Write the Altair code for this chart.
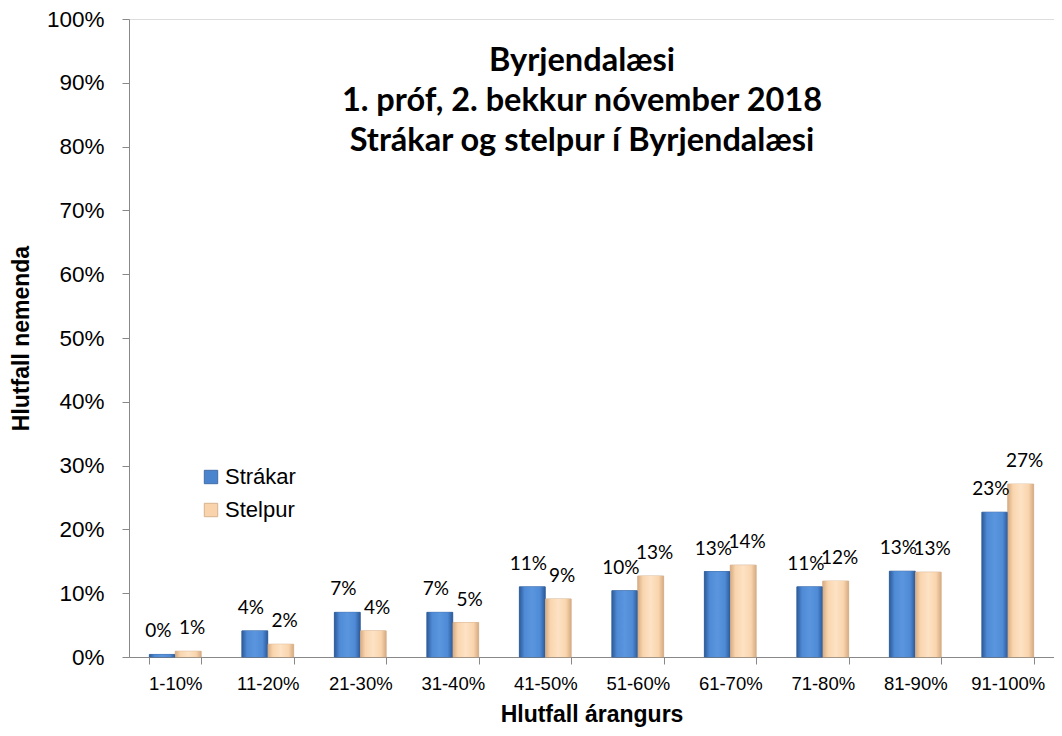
import altair as alt
import pandas as pd

categories = ["1-10%", "11-20%", "21-30%", "31-40%", "41-50%",
              "51-60%", "61-70%", "71-80%", "81-90%", "91-100%"]
series_names = ["Strákar", "Stelpur"]
strakar = [0.4, 4.1, 7.0, 7.0, 11.0, 10.4, 13.4, 11.0, 13.45, 22.7]
stelpur = [0.9, 2.0, 4.1, 5.4, 9.1, 12.7, 14.4, 11.9, 13.3, 27.1]
y_ticks = [i / 10 for i in range(11)]
title_lines = ["Byrjendalæsi", "1. próf, 2. bekkur nóvember 2018",
               "Strákar og stelpur í Byrjendalæsi"]

rows = []
for c, a, b in zip(categories, strakar, stelpur):
    rows.append({"cat": c, "series": series_names[0], "val": a / 100})
    rows.append({"cat": c, "series": series_names[1], "val": b / 100})
df = pd.DataFrame(rows)

FONT = "Lato"
blue = "#4a84cf"
peach = "#f8d3ac"

x_enc = alt.X("cat:N", sort=categories,
              scale=alt.Scale(paddingInner=0.44, paddingOuter=0.22),
              axis=alt.Axis(title="Hlutfall árangurs", labelAngle=0,
                            tickBand="extent", tickSize=7, labelPadding=10,
                            labelFontSize=18.5, titleFontSize=23,
                            titlePadding=11))
y_enc = alt.Y("val:Q", scale=alt.Scale(domain=[0, 1], nice=False),
              axis=alt.Axis(title="Hlutfall nemenda", format=".0%",
                            values=y_ticks, grid=False, tickSize=7,
                            labelPadding=18, labelFontSize=22.5,
                            titleFontSize=23, titleX=-108, titleY=319,
                            titleBaseline="middle", titleAngle=-90))
xo_enc = alt.XOffset("series:N", sort=series_names,
                     scale=alt.Scale(domain=series_names, paddingInner=0,
                                     paddingOuter=0))

base = alt.Chart(df)

bars = base.mark_bar(strokeWidth=0.8).encode(
    x=x_enc, y=y_enc, xOffset=xo_enc,
    color=alt.Color("series:N", sort=series_names,
                    scale=alt.Scale(domain=series_names, range=[blue, peach]),
                    legend=alt.Legend(title=None, orient="none",
                                      legendX=71, legendY=447,
                                      symbolType="square", symbolSize=180,
                                      symbolStrokeWidth=0.8,
                                      labelFontSize=22, rowPadding=11,
                                      labelOffset=3)),
    stroke=alt.Stroke("series:N", sort=series_names,
                      scale=alt.Scale(domain=series_names,
                                      range=["#2f5c98", "#cfa77f"]),
                      legend=None),
)

grad_blue = alt.Gradient(gradient="linear", x1=0, x2=1, y1=0, y2=0, stops=[
    alt.GradientStop(color="#2c5a98", offset=0),
    alt.GradientStop(color="#4f8ad6", offset=0.2),
    alt.GradientStop(color="#5a95de", offset=0.5),
    alt.GradientStop(color="#4f8ad6", offset=0.8),
    alt.GradientStop(color="#2c5a98", offset=1)])
grad_peach = alt.Gradient(gradient="linear", x1=0, x2=1, y1=0, y2=0, stops=[
    alt.GradientStop(color="#d6ab83", offset=0),
    alt.GradientStop(color="#f9d5ae", offset=0.2),
    alt.GradientStop(color="#fde2c4", offset=0.5),
    alt.GradientStop(color="#f9d5ae", offset=0.8),
    alt.GradientStop(color="#d6ab83", offset=1)])

gb = base.mark_bar(fill=grad_blue).encode(
    x=alt.X("cat:N", sort=categories), y="val:Q", xOffset=xo_enc
).transform_filter(alt.datum.series == series_names[0])
gp = base.mark_bar(fill=grad_peach).encode(
    x=alt.X("cat:N", sort=categories), y="val:Q", xOffset=xo_enc
).transform_filter(alt.datum.series == series_names[1])

lab_b = base.mark_text(baseline="bottom", dy=-13, dx=-4, fontSize=19,
                       font=FONT, color="black").encode(
    x=alt.X("cat:N", sort=categories), y="val:Q", xOffset=xo_enc,
    text=alt.Text("val:Q", format=".0%")
).transform_filter(alt.datum.series == series_names[0])
lab_p = base.mark_text(baseline="bottom", dy=-13, dx=4, fontSize=19,
                       font=FONT, color="black").encode(
    x=alt.X("cat:N", sort=categories), y="val:Q", xOffset=xo_enc,
    text=alt.Text("val:Q", format=".0%")
).transform_filter(alt.datum.series == series_names[1])

title_layers = []
for i, line in enumerate(title_lines):
    title_layers.append(
        alt.Chart(pd.DataFrame({"t": [line]})).mark_text(
            font=FONT, fontSize=32.5, fontWeight="bold", color="black",
            align="center", baseline="alphabetic"
        ).encode(text="t:N", x=alt.value(453), y=alt.value(52 + 40 * i))
    )

chart = alt.layer(bars, gb, gp, lab_b, lab_p, *title_layers).properties(
    width=925, height=638,
    autosize=alt.AutoSizeParams(type="none"),
    padding={"left": 121, "top": 11, "right": 0, "bottom": 80},
).configure_view(stroke=None).configure_axis(
    labelFont=FONT, titleFont=FONT, labelColor="black", titleColor="black",
    domainColor="#868686", tickColor="#868686", domainWidth=1.5,
    tickWidth=1.5, titleFontWeight="bold",
).configure_legend(labelFont=FONT, labelColor="black"
).configure(background="white")

chart.save("out.html", embed_options={"renderer": "svg", "actions": False})
